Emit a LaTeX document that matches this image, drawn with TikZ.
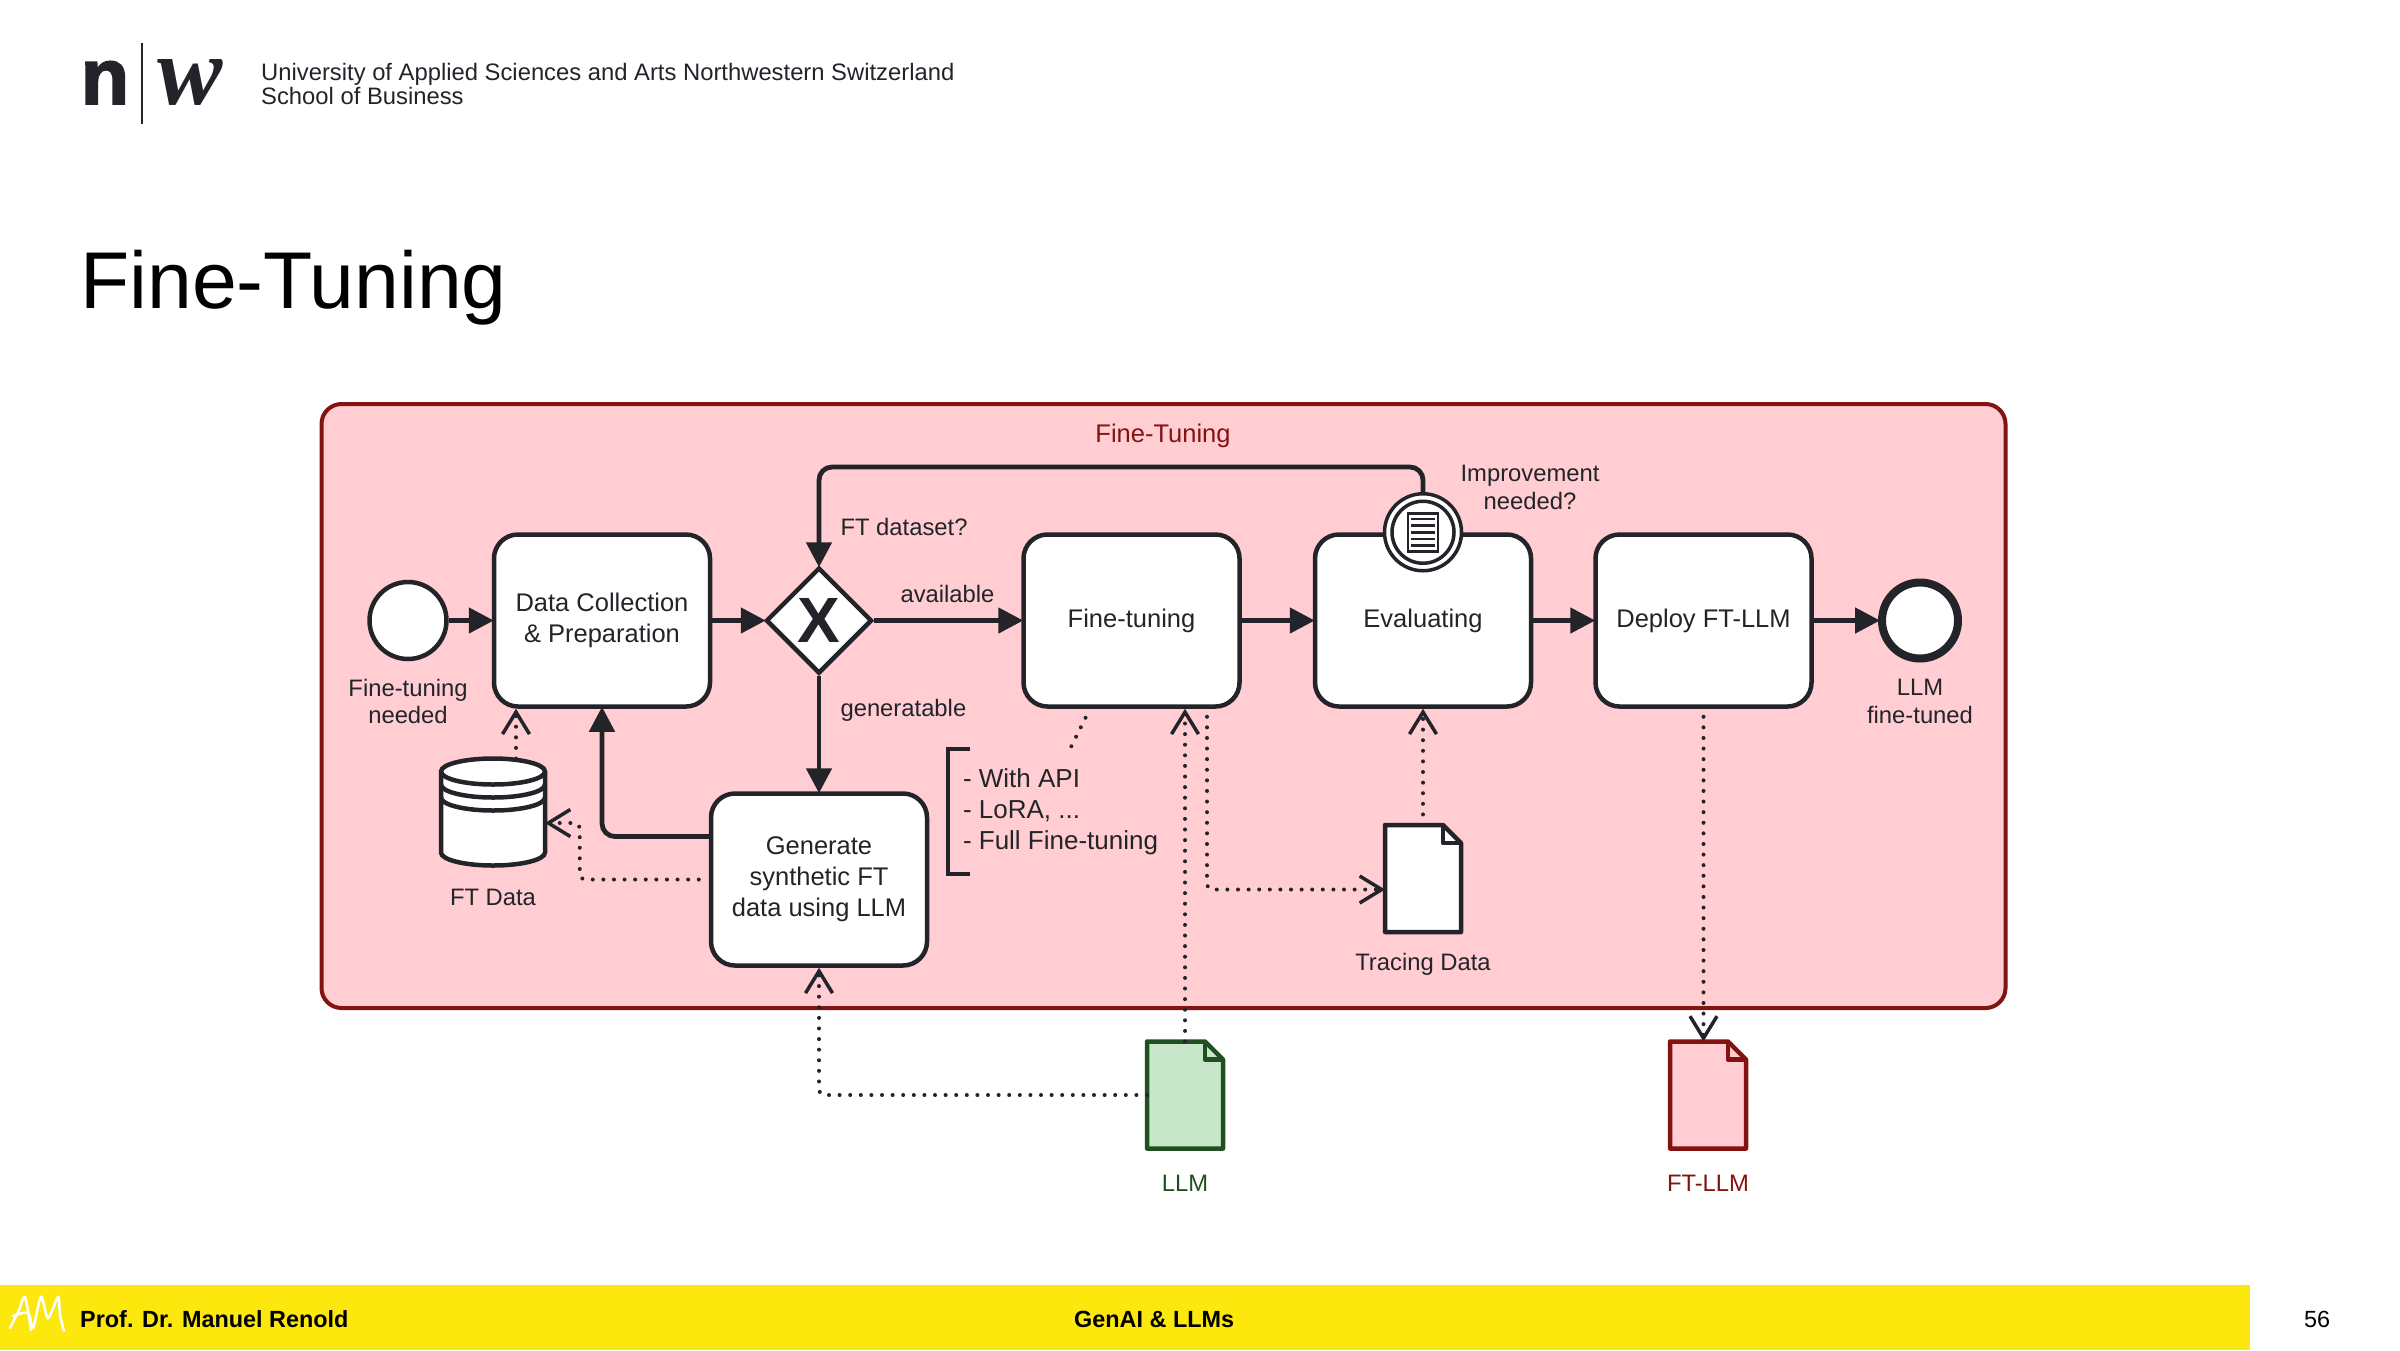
\documentclass[tikz,border=0pt]{standalone}
\usepackage{fontspec}
\setmainfont{Liberation Sans}
\newfontfamily\logoserif{Liberation Serif}
\newfontfamily\logosans[FakeBold=2.5]{Liberation Sans Bold}
\usetikzlibrary{positioning,arrows.meta,shapes.geometric}
\definecolor{ink}{HTML}{22242A}
\definecolor{poolred}{HTML}{831311}
\definecolor{poolfill}{HTML}{FFCDD2}
\definecolor{llmgreen}{HTML}{205022}
\definecolor{llmfill}{HTML}{C8E6C9}
\definecolor{footer}{HTML}{FCE80C}
\tikzset{
  task/.style={draw=ink,fill=white,line width=4.5pt,rounded corners=24pt,minimum width=216pt,
    minimum height=172pt,align=center,text=ink,font=\fontsize{25.5}{31}\selectfont},
  event/.style={circle,draw=ink,fill=white,line width=4.5pt,minimum size=77pt,inner sep=0pt},
  gate/.style={diamond,draw=ink,fill=white,line width=4.5pt,minimum width=106pt,minimum height=106pt,
    inner sep=0pt,text=ink,font=\fontsize{64}{64}\selectfont\bfseries},
  label/.style={text=ink,align=center,font=\fontsize{23.8}{27.5}\selectfont},
  doc/.style={minimum width=76pt,minimum height=107pt,inner sep=0pt,outer sep=0pt},
  flow/.style={draw=ink,line width=4.8pt,rounded corners=13pt,shorten >=-2pt,-{Triangle[length=25pt,width=25pt]}},
  assoc/.style={draw=ink,line width=4pt,line cap=round,dash pattern=on 0pt off 10.6pt,rounded corners=5pt,
    -{Straight Barb[length=22pt,width=27pt,line width=3.5pt]}},
}
\newcommand{\docfile}[3]{
  \draw[draw=#3,fill=#2,line width=4.5pt,line join=round] (#1.north west) -- ([xshift=-18pt]#1.north east)
    -- ([yshift=-18pt]#1.north east) -- (#1.south east) -- (#1.south west) -- cycle;
  \draw[draw=#3,line width=4.5pt,line join=round] ([xshift=-18pt]#1.north east)
    -- ([shift={(-18pt,-18pt)}]#1.north east) -- ([yshift=-18pt]#1.north east);
}
\begin{document}
\begin{tikzpicture}[x=1pt,y=-1pt,on grid]
  \useasboundingbox (0,0) rectangle (2400,1350);
  % header
  \node[anchor=base,font=\fontsize{79}{79}\logosans\selectfont,text=ink] (logon) at (105,104) {n};
  \node[anchor=base,font=\fontsize{98}{98}\logoserif\itshape\bfseries\selectfont,text=ink] (logow) at (190,104) {w};
  \coordinate (logotop) at (142,43);
  \coordinate (logobot) at (142,124);
  \draw[ink,line width=2pt] (logotop) -- (logobot);
  \node[anchor=west,font=\fontsize{23.8}{24.5}\selectfont,align=left,text=ink,inner sep=0pt] (school) at (261,84)
    {University of Applied Sciences and Arts Northwestern Switzerland\\School of Business};
  \node[anchor=base west,font=\fontsize{80.5}{80}\selectfont,inner sep=0pt] (title) at (80,308) {Fine-Tuning};
  % pool
  \node[draw=poolred,fill=poolfill,line width=4pt,rounded corners=20pt,minimum width=1684pt,minimum height=604pt,
    inner sep=0pt] (pool) at (1163.5,706) {};
  \node[font=\fontsize{25.5}{30}\selectfont,text=poolred] (pooltitle) at (1163,435.5) {Fine-Tuning};
  % nodes
  \node[event] (start) at (408,620.5) {};
  \node[task] (collect) [right=194pt of start] {Data Collection\\\& Preparation};
  \node[gate] (choice) [right=217pt of collect] {X};
  \node[task] (fine) [right=312.5pt of choice] {Fine-tuning};
  \node[task] (eval) [right=291.5pt of fine] {Evaluating};
  \node[task] (deploy) [right=280.5pt of eval] {Deploy FT-LLM};
  \node[event,line width=8pt,minimum size=76pt] (done) [right=216.5pt of deploy] {};
  \node[task] (generate) [below=259pt of choice] {Generate\\synthetic FT\\data using LLM};
  \node[doc] (ftdata) at (493,812) [minimum width=104pt] {};
  \node[doc] (tracing) [below=258pt of eval] {};
  \node[doc] (llm) at (1185,1095) {};
  \node[doc] (ftllm) at (1708,1095) {};
  % data shapes
  \draw[draw=ink,fill=white,line width=4.5pt] ([yshift=-13pt]ftdata.north west) -- ([yshift=13pt]ftdata.south west)
    arc[start angle=180,end angle=360,x radius=52pt,y radius=13pt] -- ([yshift=-13pt]ftdata.north east)
    arc[start angle=0,end angle=180,x radius=52pt,y radius=13pt] -- cycle;
  \foreach \d in {13,26,39}
    \draw[ink,line width=4.5pt] ([yshift=-\d pt]ftdata.north west) arc[start angle=180,end angle=360,x radius=52pt,y radius=13pt];
  \docfile{tracing}{white}{ink}
  \docfile{llm}{llmfill}{llmgreen}
  \docfile{ftllm}{poolfill}{poolred}
  % flows
  \draw[flow] (start) -- (collect);
  \draw[flow] (collect) -- (choice);
  \draw[flow] (choice) -- (fine);
  \draw[flow] (fine) -- (eval);
  \draw[flow] (eval) -- (deploy);
  \draw[flow] (deploy) -- (done);
  \draw[flow] (choice) -- (generate);
  \draw[flow] ([yshift=43pt]generate.west) -| (collect.south);
  % boundary event on the task
  \node[event,line width=3.5pt,minimum size=77pt] (improve) at (eval.north) {};
  \node[event,line width=3.5pt,minimum size=62pt] (improvein) at (improve.center) {};
  \node[draw=ink,fill=white,line width=2.5pt,minimum width=30pt,minimum height=38pt,inner sep=0pt] (improvedoc) at (improve.center) {};
  \foreach \d in {-13.3,-6.7,0,6.7,13.3}
    \draw[ink,line width=2.5pt] ([shift={(-12pt,\d pt)}]improvedoc.center) -- ([shift={(12pt,\d pt)}]improvedoc.center);
  \draw[flow] (improve.north) -- ++(0,-25) -| (choice.north);
  % associations
  \draw[assoc] ([xshift=23pt]ftdata.north) -- ([xshift=23pt]ftdata.north |- collect.south);
  \draw[assoc,shorten <=10pt] (generate.west) -- ++(-129,0) |- ([yshift=-11pt]ftdata.east);
  \draw[assoc] (llm.west) -| (generate.south);
  \draw[assoc] (llm.north) -- (llm.north |- fine.south);
  \draw[assoc,shorten <=8pt] ([xshift=75.5pt]fine.south) |- ([yshift=-11pt]tracing.west);
  \draw[assoc] (tracing.north) -- (eval.south);
  \draw[assoc,shorten <=8pt] (deploy.south) -- (deploy.south |- ftllm.north);
  % annotation
  \node[anchor=north west,font=\fontsize{26}{31}\selectfont,align=left,text=ink,inner xsep=15pt,inner ysep=0pt,
    minimum height=125pt,outer sep=0pt] (annot) at (948,749) {- With API\\- LoRA, ...\\- Full Fine-tuning};
  \draw[ink,line width=4pt] ([xshift=22pt]annot.north west) -- (annot.north west) -- (annot.south west)
    -- ([xshift=22pt]annot.south west);
  \draw[assoc,-] ([shift={(-46pt,-9pt)}]fine.south) -- ([xshift=122pt]annot.north west);
  % labels
  \node[label] (startlabel) [below=81pt of start] {Fine-tuning\\needed};
  \node[label] (donelabel) [below=81pt of done] {LLM\\fine-tuned};
  \node[label,anchor=west] (q1) at (837,527) {FT dataset?};
  \node[label] (q2) at (947.5,594) {available};
  \node[label,anchor=west] (q3) at (837,710) {generatable};
  \node[label] (q4) at (1530,487.5) {Improvement\\needed?};
  \node[label] (ftdatalabel) [below=85pt of ftdata] {FT Data};
  \node[label] (tracinglabel) [below=85.5pt of tracing] {Tracing Data};
  \node[label,text=llmgreen] (llmlabel) [below=88pt of llm] {LLM};
  \node[label,text=poolred] (ftllmlabel) [below=88pt of ftllm] {FT-LLM};
  % footer
  \node[fill=footer,minimum width=2250pt,minimum height=65pt,inner sep=0pt,anchor=north west] (bar) at (0,1285) {};
  \draw[white,line width=2.5pt,line join=round,line cap=round] plot[smooth,tension=0.5] coordinates
    {(10,1328) (19,1310) (25,1297) (31,1330)};
  \draw[white,line width=2.5pt,line cap=round] plot[smooth,tension=0.5] coordinates
    {(13,1316) (28,1313) (33,1328) (41,1297) (48,1318) (58,1297) (60,1315) (64,1331)};
  \node[anchor=west,font=\fontsize{23.4}{28}\selectfont\bfseries,inner sep=0pt] (prof) at (80,1319) {Prof. Dr. Manuel Renold};
  \node[anchor=west,font=\fontsize{23.4}{28}\selectfont\bfseries,inner sep=0pt] (topic) at (1074,1319) {GenAI \& LLMs};
  \node[font=\fontsize{23.4}{28}\selectfont] (page) at (2317,1319) {56};
\end{tikzpicture}
\end{document}
